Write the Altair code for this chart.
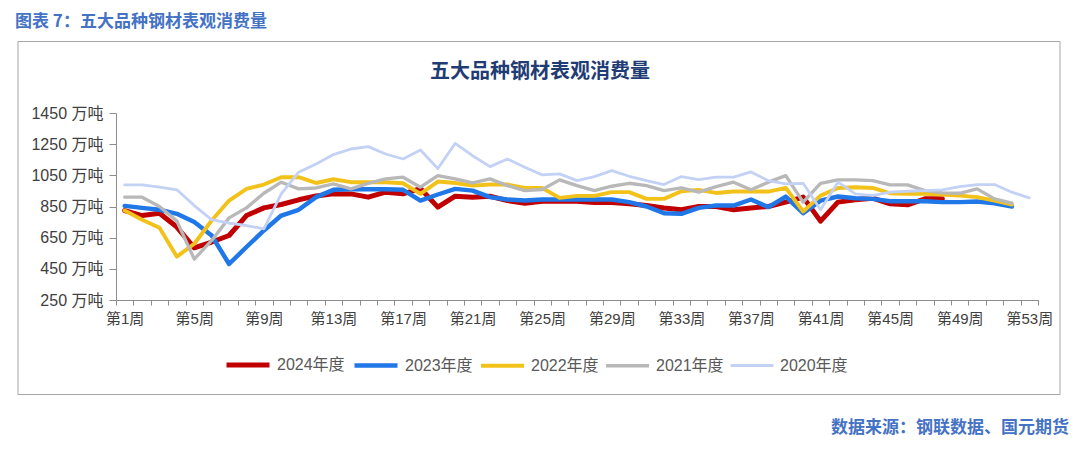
import altair as alt
import pandas as pd

# ---------------- data ----------------
series_names = ["2024年度", "2023年度", "2022年度", "2021年度", "2020年度"]
series_colors = ["#C00000", "#1F77E8", "#F2C21B", "#B8B8B8", "#C3D1F5"]
series_widths = [5, 2.8, 2.8, 2.8, 2.8]

v2024 = [824, 792, 807, 718, 585, 622, 664, 792, 841, 863, 893, 918, 931, 931, 910, 942,
         931, 965, 846, 916, 910, 916, 888, 871, 884, 884, 884, 876, 876, 867, 856, 841,
         829, 850, 850, 829, 841, 850, 878, 910, 756, 878, 893, 903, 867, 861, 899, 899]
v2023 = [854, 841, 829, 803, 750, 664, 481, 590, 696, 792, 829, 910, 957, 961, 961, 961,
         957, 888, 927, 963, 952, 910, 895, 888, 895, 895, 895, 895, 895, 878, 850, 807,
         803, 841, 856, 856, 895, 846, 914, 807, 888, 914, 903, 899, 884, 884, 884, 878,
         878, 882, 871, 850]
v2022 = [824, 765, 713, 528, 611, 760, 888, 963, 991, 1038, 1038, 1001, 1025, 1006, 1006, 1006,
         999, 931, 1010, 1001, 984, 991, 991, 969, 969, 905, 918, 918, 942, 942, 899, 899,
         948, 957, 937, 946, 946, 946, 969, 818, 920, 969, 974, 969, 935, 931, 931, 927,
         920, 910, 888, 863]
v2021 = [910, 910, 850, 756, 512, 632, 777, 841, 935, 1006, 963, 969, 995, 963, 999, 1027,
         1038, 974, 1048, 1027, 1001, 1027, 984, 952, 959, 1021, 984, 952, 980, 999, 984, 952,
         969, 942, 978, 1006, 957, 1006, 1048, 878, 999, 1021, 1021, 1016, 989, 989, 952, 937,
         935, 963, 899, 871]
v2020 = [989, 989, 974, 957, 856, 765, 743, 728, 707, 931, 1070, 1123, 1183, 1219, 1234, 1187,
         1155, 1213, 1094, 1255, 1176, 1106, 1155, 1102, 1053, 1059, 1016, 1042, 1080, 1044, 1016, 991,
         1042, 1023, 1038, 1038, 1072, 1016, 995, 999, 829, 1006, 931, 920, 942, 948, 952, 957,
         978, 991, 991, 942, 905]

all_values = [v2024, v2023, v2022, v2021, v2020]

y_ticks = [250, 450, 650, 850, 1050, 1250, 1450]
y_unit = "万吨"
x_label_weeks = [1, 5, 9, 13, 17, 21, 25, 29, 33, 37, 41, 45, 49, 53]
n_weeks = 53

page_title = "图表 7：五大品种钢材表观消费量"
chart_title = "五大品种钢材表观消费量"
source_text = "数据来源：钢联数据、国元期货"

# ---------------- build table ----------------
rows = []
for name, vals in zip(series_names, all_values):
    for i, v in enumerate(vals):
        rows.append({"week": i + 1, "value": v, "series": name})
df = pd.DataFrame(rows)

FONT = "Liberation Sans, Noto Sans CJK SC, sans-serif"
CJK = "Noto Sans CJK SC"
AXIS_GRAY = "#8C8C8C"

boundaries = [k + 0.5 for k in range(n_weeks + 1)]
label_expr = " : ".join(
    f"datum.value == {w - 0.5} ? '第{w}周'" for w in x_label_weeks
) + " : ''"

x_enc = alt.X(
    "week:Q",
    scale=alt.Scale(domain=[0.5, n_weeks + 0.5], nice=False, zero=False),
    axis=alt.Axis(
        values=boundaries, labelExpr=label_expr, labelOffset=8.7,
        tickSize=5, tickColor=AXIS_GRAY, domainColor=AXIS_GRAY,
        labelFontSize=15, labelFont=FONT, labelColor="#404040",
        labelPadding=6, labelOverlap=False, labelFlush=False,
        grid=False, title=None,
    ),
)
y_enc = alt.Y(
    "value:Q",
    scale=alt.Scale(domain=[y_ticks[0], y_ticks[-1]], nice=False, zero=False),
    axis=alt.Axis(
        values=y_ticks, labelExpr=f"datum.value + ' {y_unit}'",
        tickSize=7, tickColor=AXIS_GRAY, domainColor=AXIS_GRAY,
        labelFontSize=16, labelFont=FONT, labelColor="#404040",
        labelPadding=6, grid=False, title=None,
    ),
)
legend_cfg = dict(
    orient="none", legendX=108, legendY=228, direction="horizontal",
    symbolType="stroke", symbolSize=1849, labelFontSize=16,
    labelFont=FONT, labelColor="#595959", columnPadding=0,
    labelOffset=5, title=None,
)
color_enc = alt.Color(
    "series:N",
    scale=alt.Scale(domain=series_names, range=series_colors),
    legend=alt.Legend(**legend_cfg),
)
width_enc = alt.StrokeWidth(
    "series:N",
    scale=alt.Scale(domain=series_names, range=series_widths),
    legend=alt.Legend(**legend_cfg),
)

line_layers = []
for name in series_names:
    line_layers.append(
        alt.Chart(df)
        .transform_filter(alt.datum.series == name)
        .mark_line(strokeJoin="round", strokeCap="round")
        .encode(x=x_enc, y=y_enc, color=color_enc, strokeWidth=width_enc)
    )

one = alt.Data(values=[{"k": 1}])
PLOT_LEFT = 116
PLOT_TOP = 113.5

box = alt.Chart(one).mark_rect(filled=False, stroke="#A6A6A6", strokeWidth=1).encode(
    x=alt.value(18 - PLOT_LEFT), x2=alt.value(1060 - PLOT_LEFT),
    y=alt.value(42 - PLOT_TOP), y2=alt.value(395 - PLOT_TOP),
)
t1 = alt.Chart(one).mark_text(
    text=page_title, align="left", baseline="middle", fontSize=17,
    fontWeight="bold", font=CJK, color="#4472C4",
).encode(x=alt.value(15 - PLOT_LEFT), y=alt.value(22 - PLOT_TOP))
t2 = alt.Chart(one).mark_text(
    text=chart_title, align="center", baseline="middle", fontSize=20,
    fontWeight="bold", font=CJK, color="#1F3C74",
).encode(x=alt.value(540 - PLOT_LEFT), y=alt.value(72 - PLOT_TOP))
t3 = alt.Chart(one).mark_text(
    text=source_text, align="right", baseline="middle", fontSize=17,
    fontWeight="bold", font=CJK, color="#4472C4",
).encode(x=alt.value(1069 - PLOT_LEFT), y=alt.value(428 - PLOT_TOP))

chart = alt.layer(box, t1, t2, t3, *line_layers).properties(
    width=922, height=187,
    padding={"left": 108, "top": 105, "right": 34, "bottom": 146},
    autosize=alt.AutoSizeParams(type="none"),
    background="white",
).configure_view(stroke=None)

chart.save("out.html", embed_options={"renderer": "svg", "actions": False})
